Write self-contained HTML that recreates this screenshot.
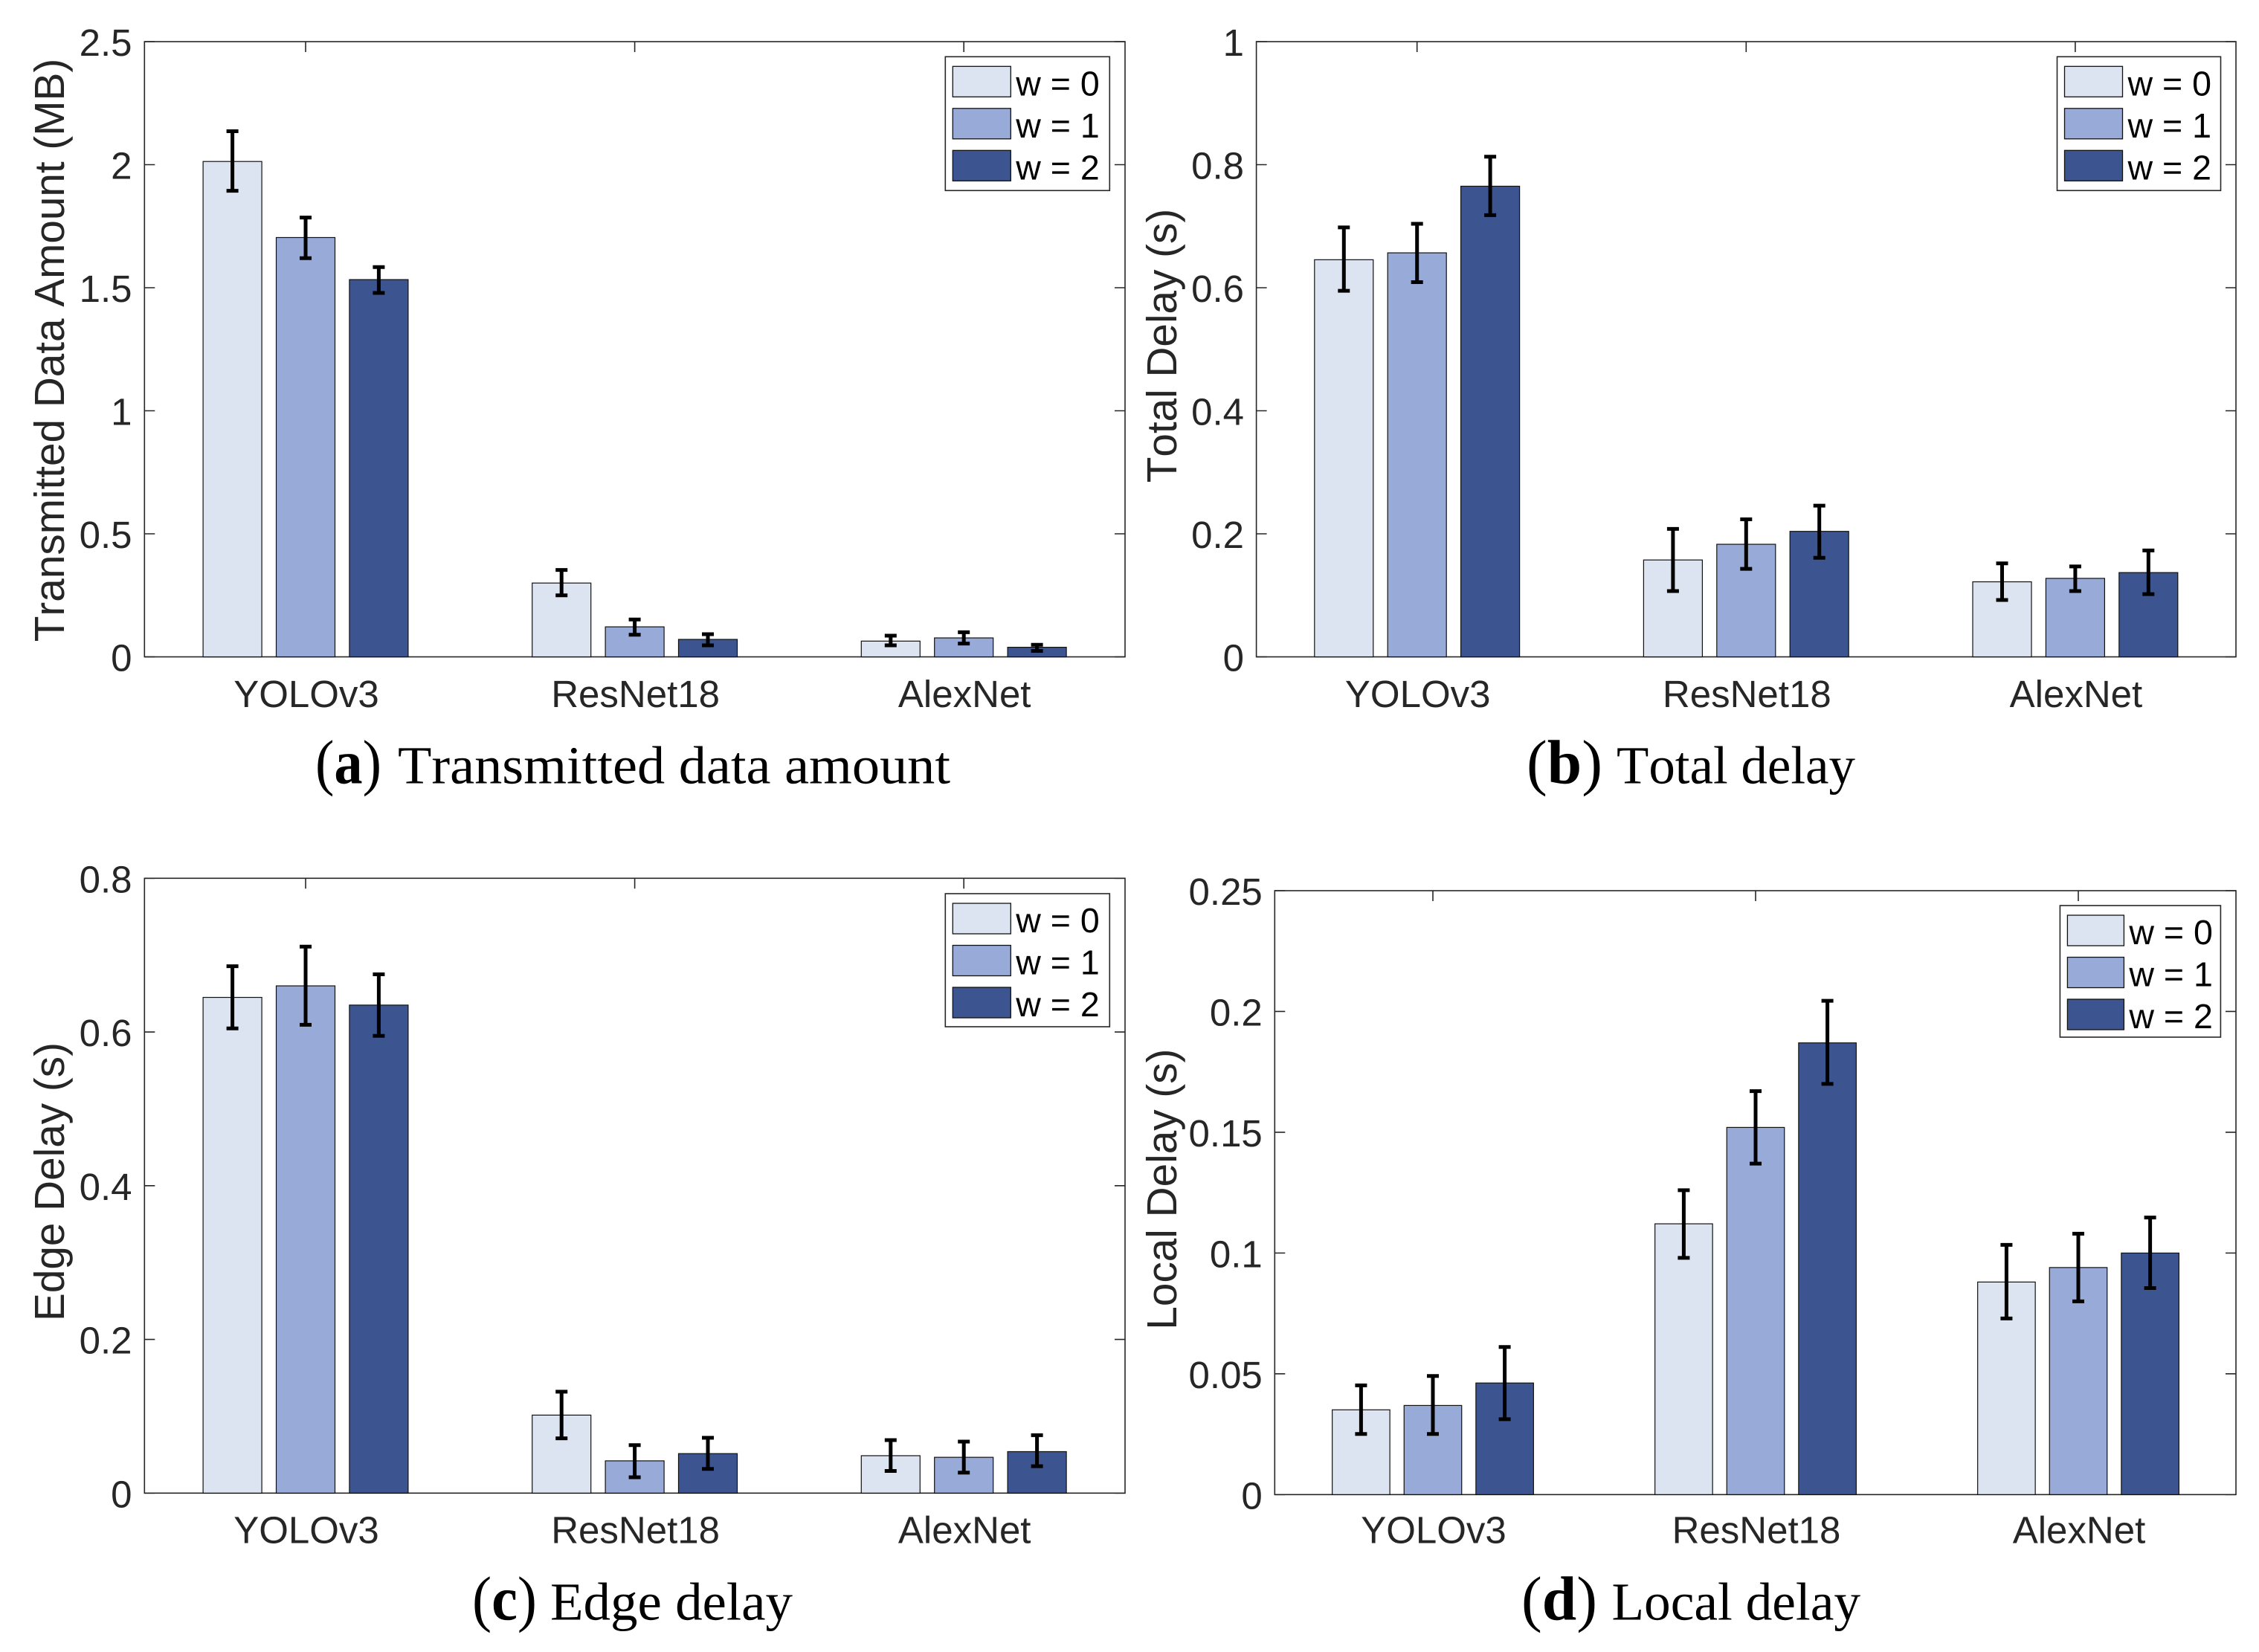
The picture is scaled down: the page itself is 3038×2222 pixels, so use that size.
<!DOCTYPE html>
<html lang="en">
<head>
<meta charset="utf-8">
<title>Delay and data amount bar charts</title>
<style>
html,body{margin:0;padding:0;background:#fff;}
svg{display:block;}
text{font-kerning:none;text-rendering:geometricPrecision;}
.tick{font-family:"Liberation Sans",Arial,sans-serif;font-size:51px;fill:#262626;}
.ylab{font-family:"Liberation Sans",Arial,sans-serif;font-size:56.7px;fill:#262626;}
.leg{font-family:"Liberation Sans",Arial,sans-serif;font-size:46.5px;fill:#000;}
.cap{font-family:"Liberation Serif","Times New Roman",serif;font-size:72px;fill:#000;}
.capl{font-family:"Liberation Serif","Times New Roman",serif;font-size:84px;fill:#000;}
</style>
</head>
<body>
<svg id="figure" xmlns="http://www.w3.org/2000/svg" width="3038" height="2222" viewBox="0 0 3038 2222">
<rect x="0" y="0" width="3038" height="2222" fill="#fff"/>
</svg>
<script>
const categories = ['YOLOv3', 'ResNet18', 'AlexNet'];
const seriesLabels = ['w = 0', 'w = 1', 'w = 2'];
const seriesColors = ['#dde4f1', '#98aad8', '#3c5590'];

const transmittedTicks = ['0', '0.5', '1', '1.5', '2', '2.5'];
const transmittedValues = [[2.013, 0.300, 0.064], [1.704, 0.122, 0.077], [1.533, 0.071, 0.039]];
const transmittedUpper = [[2.136, 0.353, 0.086], [1.785, 0.152, 0.100], [1.584, 0.092, 0.049]];
const transmittedLower = [[1.894, 0.250, 0.047], [1.620, 0.090, 0.054], [1.479, 0.047, 0.024]];

const totalTicks = ['0', '0.2', '0.4', '0.6', '0.8', '1'];
const totalValues = [[0.6455, 0.1575, 0.122], [0.6567, 0.183, 0.1276], [0.765, 0.204, 0.137]];
const totalUpper = [[0.698, 0.208, 0.152], [0.704, 0.2235, 0.147], [0.813, 0.2457, 0.173]];
const totalLower = [[0.595, 0.107, 0.0925], [0.609, 0.143, 0.107], [0.718, 0.161, 0.102]];

const edgeTicks = ['0', '0.2', '0.4', '0.6', '0.8'];
const edgeValues = [[0.645, 0.1015, 0.0487], [0.660, 0.042, 0.0466], [0.635, 0.0514, 0.054]];
const edgeUpper = [[0.6855, 0.132, 0.069], [0.711, 0.0624, 0.067], [0.675, 0.072, 0.0754]];
const edgeLower = [[0.6046, 0.0713, 0.0288], [0.6094, 0.0206, 0.0267], [0.595, 0.0315, 0.035]];

const localTicks = ['0', '0.05', '0.1', '0.15', '0.2', '0.25'];
const localValues = [[0.0351, 0.1121, 0.088], [0.0369, 0.152, 0.094], [0.0462, 0.187, 0.100]];
const localUpper = [[0.0452, 0.126, 0.1034], [0.0491, 0.167, 0.108], [0.0611, 0.2044, 0.1147]];
const localLower = [[0.0251, 0.098, 0.0729], [0.0251, 0.137, 0.080], [0.0312, 0.170, 0.0855]];

const svg = document.getElementById('figure');
const NS = 'http://www.w3.org/2000/svg';

function make(tag, attrs, parent, txt) {
  const el = document.createElementNS(NS, tag);
  for (const k in attrs) el.setAttribute(k, attrs[k]);
  if (txt !== undefined) el.textContent = txt;
  parent.appendChild(el);
  return el;
}

function drawPanel(p) {
  const g = make('g', {}, svg);
  
  

  const yScale = v => p.bottom - (v / p.yMax) * (p.bottom - p.top);
  const xScale = (c, s) => p.x0 + c * p.groupGap + (s - 1) * p.barGap;

  const frame = make('rect', {x: p.left, y: p.top, width: p.right - p.left, height: p.bottom - p.top, fill: '#fff', stroke: '#262626', 'stroke-width': 1.6}, g);
  
  

  p.ticks.forEach(label => {
    const y = yScale(parseFloat(label));
    const t = make('path', {d: `M${p.left} ${y}h14M${p.right} ${y}h-14`, stroke: '#262626', 'stroke-width': 1.6, fill: 'none'}, g);
    
    
    const l = make('text', {x: p.tickRight, y: y + 19, 'text-anchor': 'end', class: 'tick'}, g, label);
    
    
  });

  categories.forEach((cat, c) => {
    const x = xScale(c, 1);
    const t = make('path', {d: `M${x} ${p.top}v14M${x} ${p.bottom}v-14`, stroke: '#262626', 'stroke-width': 1.6, fill: 'none'}, g);
    
    
    const l = make('text', {x: x + 1, y: p.bottom + p.xLabelDy, 'text-anchor': 'middle', class: 'tick'}, g, cat);
    
    
  });

  p.values.forEach((row, s) => {
    row.forEach((v, c) => {
      const cx = xScale(c, s);
      const b = make('rect', {x: cx - p.barW / 2, y: yScale(v), width: p.barW, height: p.bottom - yScale(v), fill: seriesColors[s], stroke: '#111', 'stroke-width': 1.2}, g);
      
      
    });
  });

  p.values.forEach((row, s) => {
    row.forEach((v, c) => {
      const cx = xScale(c, s);
      const yu = yScale(p.upper[s][c]);
      const yl = yScale(p.lower[s][c]);
      const e = make('path', {d: `M${cx} ${yu}V${yl}M${cx - 8} ${yu}h16M${cx - 8} ${yl}h16`, stroke: '#000', 'stroke-width': 5, fill: 'none'}, g);
      
      
    });
  });

  const yl = make('text', {x: 0, y: 0, 'text-anchor': 'middle', class: 'ylab', transform: `translate(${p.yLabelX} ${p.yLabelCy}) rotate(-90)`}, g, p.yLabel);
  
  

  const lg = make('g', {}, g);
  
  
  const lb = make('rect', {x: p.lgX, y: p.lgY, width: p.lgW, height: p.lgH, fill: '#fff', stroke: '#262626', 'stroke-width': 1.6}, lg);
  
  
  seriesLabels.forEach((lab, s) => {
    const sy = p.lgY + 13 + s * 56.5;
    const sw = make('rect', {x: p.lgX + 10, y: sy, width: p.swW, height: 41, fill: seriesColors[s], stroke: '#111', 'stroke-width': 1.3}, lg);
    
    
    const tx = make('text', {x: p.lgX + p.swW + 17, y: sy + 39, class: 'leg'}, lg, lab);
    
    
  });

  const cl = make('text', {x: p.capX, y: p.capY, class: 'capl', textLength: p.capLW, lengthAdjust: 'spacingAndGlyphs'}, g);
  
  
  cl.appendChild(document.createTextNode('('));
  const bold = make('tspan', {'font-weight': 'bold'}, cl, p.capLetter);
  
  
  cl.appendChild(document.createTextNode(')'));
  const ct = make('text', {x: p.capTX, y: p.capY, class: 'cap', textLength: p.capTW, lengthAdjust: 'spacingAndGlyphs'}, g, p.caption);
  
  
}

drawPanel({name: 'panel-transmitted-data', left: 194.3, right: 1513, top: 56, bottom: 883.5, yMax: 2.5,
  x0: 411, groupGap: 442.6, barGap: 98.4, barW: 79, tickRight: 177.5, xLabelDy: 67.4, yLabelX: 86, yLabelCy: 471,
  yLabel: 'Transmitted Data Amount (MB)', ticks: transmittedTicks,
  values: transmittedValues, upper: transmittedUpper, lower: transmittedLower,
  lgX: 1271.3, lgY: 76.3, lgW: 221, lgH: 180, swW: 78,
  capX: 424, capLW: 89, capLetter: 'a', capTX: 535, capTW: 743, capY: 1053.3, caption: 'Transmitted data amount'});

drawPanel({name: 'panel-total-delay', left: 1689.6, right: 3007, top: 56, bottom: 883.5, yMax: 1,
  x0: 1905.7, groupGap: 442.6, barGap: 98.4, barW: 79, tickRight: 1673, xLabelDy: 67.4, yLabelX: 1582, yLabelCy: 465,
  yLabel: 'Total Delay (s)', ticks: totalTicks,
  values: totalValues, upper: totalUpper, lower: totalLower,
  lgX: 2766.5, lgY: 76.3, lgW: 220, lgH: 180, swW: 78,
  capX: 2053, capLW: 102, capLetter: 'b', capTX: 2174, capTW: 321, capY: 1053.3, caption: 'Total delay'});

drawPanel({name: 'panel-edge-delay', left: 194.3, right: 1513, top: 1181.3, bottom: 2008.3, yMax: 0.8,
  x0: 411, groupGap: 442.6, barGap: 98.4, barW: 79, tickRight: 177.5, xLabelDy: 67.4, yLabelX: 86, yLabelCy: 1589.5,
  yLabel: 'Edge Delay (s)', ticks: edgeTicks,
  values: edgeValues, upper: edgeUpper, lower: edgeLower,
  lgX: 1271.3, lgY: 1202, lgW: 221, lgH: 179, swW: 78,
  capX: 635, capLW: 87, capLetter: 'c', capTX: 740, capTW: 326, capY: 2178.4, caption: 'Edge delay'});

drawPanel({name: 'panel-local-delay', left: 1714.3, right: 3007, top: 1198, bottom: 2010.3, yMax: 0.25,
  x0: 1927, groupGap: 434, barGap: 96.6, barW: 77.5, tickRight: 1697.8, xLabelDy: 65.4, yLabelX: 1582, yLabelCy: 1599.6,
  yLabel: 'Local Delay (s)', ticks: localTicks,
  values: localValues, upper: localUpper, lower: localLower,
  lgX: 2770.4, lgY: 1218, lgW: 216, lgH: 177, swW: 76,
  capX: 2046, capLW: 102, capLetter: 'd', capTX: 2167.5, capTW: 334.5, capY: 2178.4, caption: 'Local delay'});
</script>
</body>
</html>
